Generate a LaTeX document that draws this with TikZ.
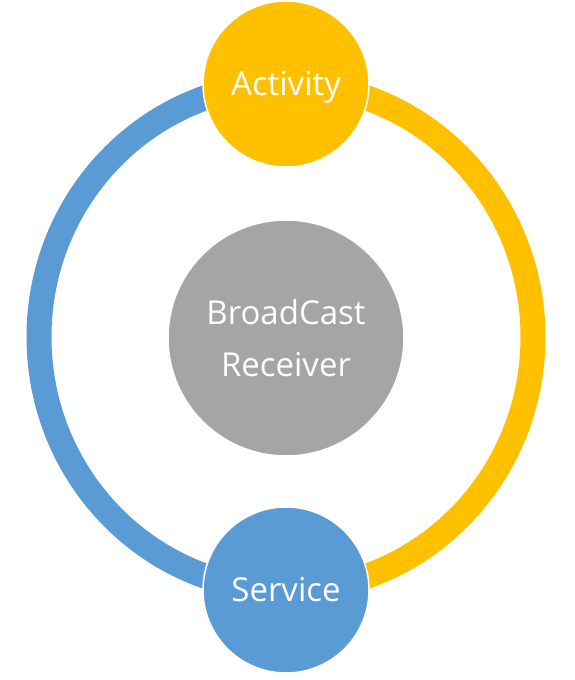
\documentclass[tikz,border=0pt]{standalone}
\usepackage{fontspec}
\setmainfont{Open Sans}
\usetikzlibrary{backgrounds}
\definecolor{ringblue}{HTML}{5B9BD5}
\definecolor{ringyellow}{HTML}{FFC000}
\definecolor{hubgray}{HTML}{A5A5A5}

\begin{document}
\begin{tikzpicture}[
      x = 1pt, y = 1pt,
      part/.style = {
        circle, draw = white, line width = 1.5pt, text = white,
        inner sep = 0, minimum size = 166pt,
        font = {\fontsize{33}{52}\selectfont}
      },
      oneline/.style = { text height = 24pt, text depth = 0pt },
      hub/.style = { fill = hubgray, minimum size = 236pt, align = center },
      ring/.style = { line width = 25pt },
    ]
    \useasboundingbox (0,0) rectangle (575,680);

    \node[part, oneline, fill = ringyellow] (act) at (286,596) {Activity};
    \node[part, oneline, fill = ringblue] (serv) at (286,90) {Service};
    \node[part, hub] (recv) at (286,342) {BroadCast\\ Receiver};

    %% the ring, behind the circles
    \begin{scope}[on background layer]
      \draw[ring, ringyellow] (act.center) arc[start angle = 90, end angle = -90, x radius = 247, y radius = 253];
      \draw[ring, ringblue] (act.center) arc[start angle = 90, end angle = 270, x radius = 247, y radius = 253];
    \end{scope}
  \end{tikzpicture}
\end{document}
